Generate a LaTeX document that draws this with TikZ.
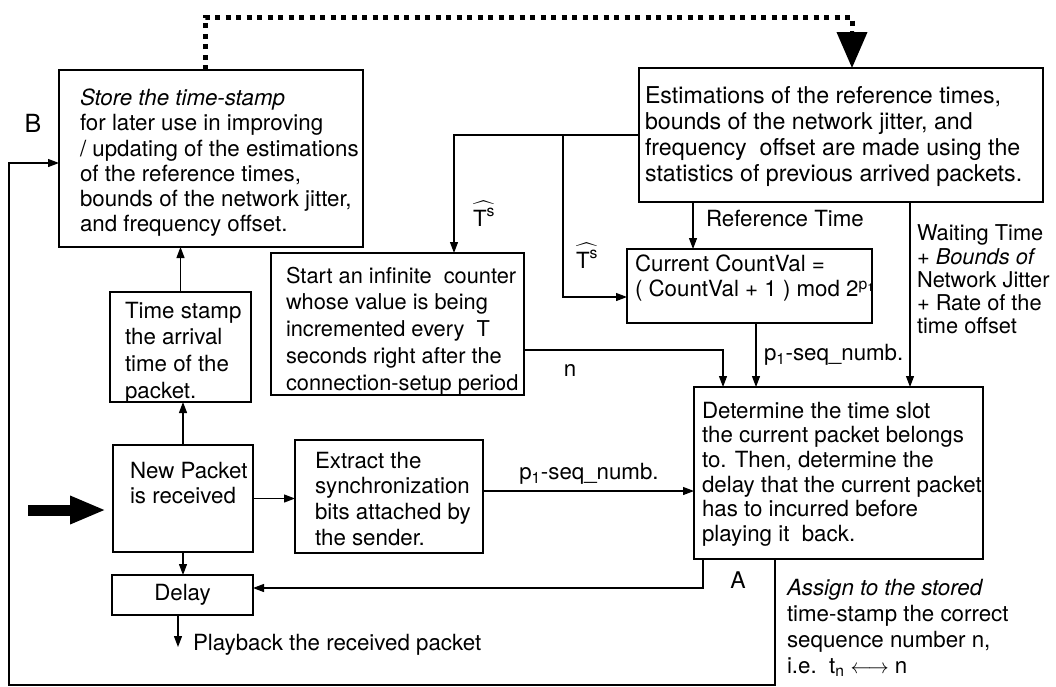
\documentclass[tikz,border=0pt]{standalone}
\usepackage{fontspec}
\setmainfont{TeX Gyre Heros}
\usepackage{amsmath}
\usetikzlibrary{arrows.meta}
\begin{document}
\begin{tikzpicture}[x=1pt,y=-1pt,
  every node/.style={inner sep=0pt, outer sep=0pt},
  box/.style={draw, line width=1.3pt},
  txt/.style={anchor=north west, align=left, font=\fontsize{22.3}{#1}\selectfont},
  txt/.default=25.5,
  lbl/.style={font=\fontsize{22.3}{25.5}\selectfont},
  conn/.style={line width=1.2pt},
  arr/.style={conn, -{Triangle[length=11pt,width=8pt]}},
  dotline/.style={line width=5pt, dash pattern=on 5pt off 5.5pt},
]
\useasboundingbox (0,0) rectangle (1056,686);

% boxes
\node[box, minimum width=304pt, minimum height=177pt] (store) at (211,158.5) {};
\node[box, minimum width=404pt, minimum height=134pt] (est) at (841,135) {};
\node[box, minimum width=253pt, minimum height=142pt] (start) at (397.5,324) {};
\node[box, minimum width=245pt, minimum height=74pt] (count) at (749.5,286) {};
\node[box, minimum width=141pt, minimum height=110pt] (tstamp) at (180.5,347) {};
\node[box, minimum width=140pt, minimum height=107pt] (newp) at (183,498.5) {};
\node[box, minimum width=188pt, minimum height=113pt] (extract) at (389,496.5) {};
\node[box, minimum width=289pt, minimum height=172pt] (det) at (838.5,473) {};
\node[box, minimum width=141pt, minimum height=40pt] (delay) at (182.5,595) {};

% box texts
\node[txt=25.2] (storeT) at (80,89) {\textit{Store the time-stamp}\\for later use in improving\\/ updating of the estimations\\of the reference times,\\bounds of the network jitter,\\and frequency offset.};
\node[anchor=north west, align=left, font=\fontsize{23.2}{25.7}\selectfont] (estT) at (645,87) {Estimations of the reference times,\\bounds of the network jitter, and\\frequency\ \ offset are made using the\\statistics of previous arrived packets.};
\node[anchor=north west, align=left, font=\fontsize{21.8}{26.7}\selectfont] (startT) at (286,267) {Start an infinite\ \ counter\\whose value is being\\incremented every\ \ T\\seconds right after the\\connection-setup period};
\node[txt=25] (countT) at (635,255) {Current CountVal =\\( CountVal + 1 ) mod 2\textsuperscript{p\textsubscript{1}}};
\node[txt=26.7] (tstampT) at (125,302) {Time stamp\\the arrival\\time of the\\packet.};
\node[txt=25] (newpT) at (130,462) {New Packet\\is received};
\node[txt=25.7] (extractT) at (315,452) {Extract the\\synchronization\\bits attached by\\the sender.};
\node[txt=24.6] (detT) at (702,402) {Determine the time slot\\the current packet belongs\\to. Then, determine the\\delay that the current packet\\has to incurred before\\playing it\ \ back.};
\node[lbl] (delayT) at (delay.center) {Delay};

% helper coordinates
\coordinate (dTL) at (205,17);
\coordinate (dTR) at (852,17);
\coordinate (dA) at (852,31);
\coordinate (xTs1) at (454,0);
\coordinate (xTs2) at (563,0);
\coordinate (yTs2) at (0,297);
\coordinate (xRef) at (693,0);
\coordinate (xWait) at (910,0);
\coordinate (xN) at (723,0);
\coordinate (yN) at (0,350);
\coordinate (xSeq) at (756,0);
\coordinate (ySync) at (0,491);
\coordinate (xD) at (703,0);
\coordinate (yDl) at (0,588);
\coordinate (xP) at (178,0);
\coordinate (pb) at (178,647);
\coordinate (xA) at (775,0);
\coordinate (xL) at (9,0);
\coordinate (yBot) at (0,685);
\coordinate (yB) at (0,163);
\coordinate (inS) at (28,510);

% dotted feedback to estimation box
\draw[dotline] (dTL |- store.north) -- (dTL) -- (dTR) -- (dA);
\draw[line width=4pt, -{Triangle[length=36pt,width=30pt]}] (dA) -- (dA |- est.north);

% estimation outputs
\draw[arr] (est.west) -- (est.west -| xTs1) -- (xTs1 |- start.north);
\draw[arr] (est.west -| xTs2) -- (xTs2 |- yTs2) -- (count.west |- yTs2);
\draw[arr] (est.south -| xRef) -- (count.north -| xRef);
\draw[arr] (est.south -| xWait) -- (det.north -| xWait);
\node[lbl] (ts1) at (484,214) {$\widehat{\text{T}^{\text{s}}}$};
\node[lbl] (ts2) at (587,256) {$\widehat{\text{T}^{\text{s}}}$};
\node[lbl, anchor=west] (refT) at (706,218) {Reference Time};
\node[anchor=north west, align=left, font=\fontsize{21.8}{23.2}\selectfont] (waitT) at (917,225) {Waiting Time\\+ \textit{Bounds of}\\Network Jitter\\+ Rate of the\\time offset};

% counter outputs
\draw[arr] (start.east |- yN) -| (det.north -| xN);
\node[lbl] (nT) at (570,370) {n};
\draw[arr] (count.south -| xSeq) -- (det.north -| xSeq);
\node[lbl, anchor=west] (seq1) at (764,355) {p\textsubscript{1}-seq\_numb.};

% packet path
\draw[arr] (tstamp.north) -- (store.south -| tstamp.north);
\draw[arr] (newp.north) -- (tstamp.south -| newp.north);
\draw[line width=11pt, -{Triangle[length=36pt,width=26pt]}, shorten >=7pt] (inS) -- (inS -| newp.west);
\draw[arr] (newp.east) -- (newp.east -| extract.west);
\draw[arr] (newp.south) -- (delay.north -| newp.south);
\draw[arr] (extract.east |- ySync) -- (det.west |- ySync);
\node[lbl] (seq2) at (589,474) {p\textsubscript{1}-seq\_numb.};
\draw[arr] (det.south -| xD) -- (xD |- yDl) -- (delay.east |- yDl);
\draw[arr] (delay.south -| xP) -- (pb);
\node[lbl, anchor=west] (pbT) at (193,645) {Playback the received packet};

% feedback to store
\draw[arr] (det.south -| xA) -- (xA |- yBot) -- (xL |- yBot) -- (xL |- yB) -- (store.west |- yB);
\node[font=\fontsize{25}{25}\selectfont] (B) at (33,123) {B};
\node[font=\fontsize{23}{25}\selectfont] (A) at (738,580) {A};
\node[txt=26] (assignT) at (787,579) {\textit{Assign to the stored}\\time-stamp the correct\\sequence number n,\\i.e.\ \ t\textsubscript{n} $\longleftrightarrow$ n};
\end{tikzpicture}
\end{document}
